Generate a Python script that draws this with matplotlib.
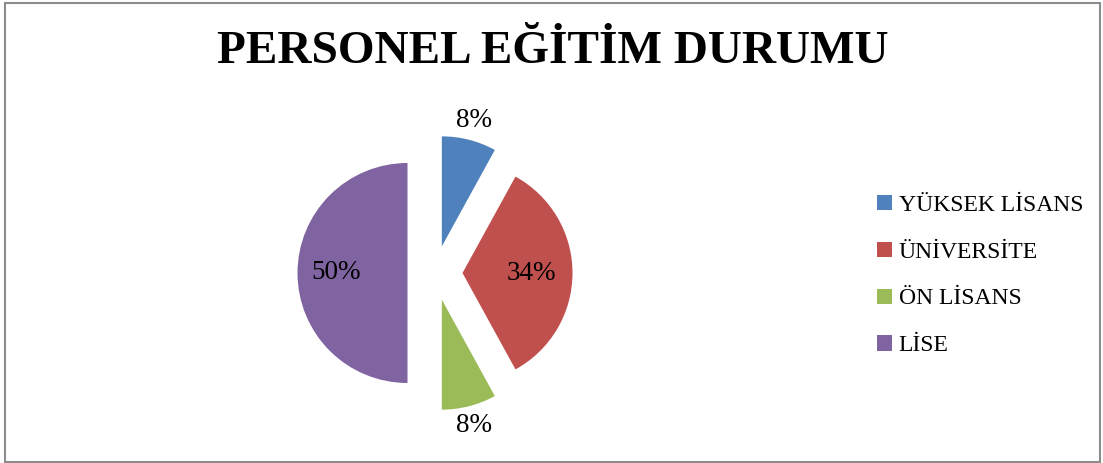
import numpy as np
import matplotlib.pyplot as plt
from matplotlib.patches import Rectangle

# data
labels = ['YÜKSEK LİSANS', 'ÜNİVERSİTE', 'ÖN LİSANS', 'LİSE']
values = [8, 34, 8, 50]
colors = ['#4F81BD', '#C0504D', '#9BBB59', '#8064A2']
title = 'PERSONEL EĞİTİM DURUMU'

# label distance from each (exploded) wedge centre, in radii
label_dist = [1.18, 0.63, 1.18, 0.65]

fig = plt.figure(figsize=(11.03, 4.63), dpi=100)
W, H = 1103, 463

# frame around the chart area
fig.patches.append(Rectangle((5 / W, 1.5 / H), 1095 / W, 459 / H,
                             transform=fig.transFigure, fill=False,
                             edgecolor='#8c8c8c', linewidth=1.5))

ax = fig.add_axes([270 / W, 25 / H, 330 / W, 330 / H])
wedges, texts, autotexts = ax.pie(
    values, colors=colors, startangle=90, counterclock=False,
    explode=[0.25] * len(values), autopct='%1.0f%%', radius=1.0,
    textprops=dict(family='Liberation Serif', fontsize=19.5, color='black'))

for w, t, d in zip(wedges, autotexts, label_dist):
    ang = np.deg2rad((w.theta1 + w.theta2) / 2)
    cx, cy = w.center
    t.set_position((cx + d * np.cos(ang), cy + d * np.sin(ang)))
    t.set_ha('center')
    t.set_va('center')

ax.set_xlim(-1.5, 1.5)
ax.set_ylim(-1.5, 1.5)
ax.set_aspect('equal')
ax.axis('off')

fig.text(0.5015, 1 - 52 / H, title, ha='center', va='center',
         family='Liberation Serif', fontweight='bold', fontsize=34)

fig.legend(wedges, labels, loc='center left',
           bbox_to_anchor=(877 / W, 1 - 275.5 / H), frameon=False,
           prop=dict(family='Liberation Serif', size=17),
           handlelength=0.62, handleheight=0.62, handletextpad=0.3,
           labelspacing=1.1, borderaxespad=0, borderpad=0)

fig.savefig('out.png', dpi=100)
